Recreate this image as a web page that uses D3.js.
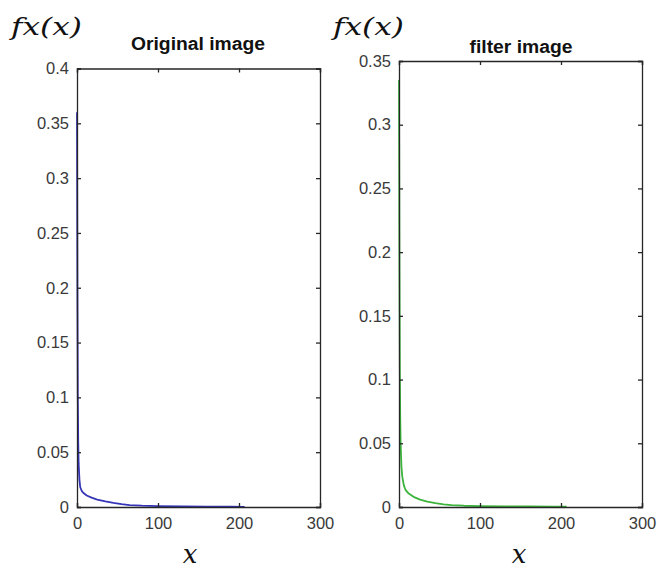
<!DOCTYPE html>
<html>
<head>
<meta charset="utf-8">
<script src="https://cdn.jsdelivr.net/npm/d3@7"></script>
<style>
  body { margin: 0; background: #fff; }
  svg { display: block; }
  .tick text { font-family: "Liberation Sans", Arial, sans-serif; font-size: 16.5px; fill: #3a3a3a; }
</style>
</head>
<body>
<div id="chart"></div>
<script>
// ---- data ----
const origX = [0, 0.5, 1, 1.5, 2, 3, 4, 6, 8, 12, 18, 25, 35, 45, 55, 65, 80, 100, 130, 160, 190, 207];
const origY = [0.36, 0.2, 0.1, 0.06, 0.04, 0.025, 0.018, 0.0145, 0.0128, 0.0105, 0.0085, 0.0068, 0.0052, 0.0038, 0.0026, 0.0018, 0.0012, 0.0008, 0.0005, 0.0004, 0.0003, 0.0002];
const filtX = [0, 0.5, 1, 1.5, 2, 3, 4, 6, 8, 12, 18, 26, 35, 45, 55, 65, 80, 100, 130, 160, 190, 207];
const filtY = [0.335, 0.2, 0.11, 0.07, 0.05, 0.032, 0.024, 0.017, 0.0135, 0.0105, 0.008, 0.0058, 0.0042, 0.003, 0.0021, 0.0015, 0.001, 0.0007, 0.0005, 0.0004, 0.0003, 0.0002];
const xTicks = [0, 100, 200, 300];
const origYTicks = [0, 0.05, 0.1, 0.15, 0.2, 0.25, 0.3, 0.35, 0.4];
const filtYTicks = [0, 0.05, 0.1, 0.15, 0.2, 0.25, 0.3, 0.35];
const titles = ["Original image", "filter image"];

const W = 657, H = 570;
const svg = d3.select("#chart").append("svg").attr("width", W).attr("height", H);

const panels = [
  { title: titles[0], xs: origX, ys: origY, yTicks: origYTicks, yMax: 0.4,
    left: 77, right: 320, top: 68.5, bottom: 507, color: "#3535b8",
    titleX: 198, titleW: 134, titleY: 50, fxX: 11, xLblX: 190 },
  { title: titles[1], xs: filtX, ys: filtY, yTicks: filtYTicks, yMax: 0.35,
    left: 399, right: 642, top: 61, bottom: 507, color: "#3cb43c",
    titleX: 521, titleW: 103, titleY: 53, fxX: 333, xLblX: 519 }
];

panels.forEach(p => {
  const x = d3.scaleLinear().domain([0, 300]).range([p.left, p.right]);
  const y = d3.scaleLinear().domain([0, p.yMax]).range([p.bottom, p.top]);
  const g = svg.append("g");
  const axColor = "#262626";

  // curve
  const data = p.xs.map((v, i) => [v, p.ys[i]]);
  const line = d3.line().x(d => x(d[0])).y(d => y(d[1]));
  g.append("path").datum(data).attr("d", line)
    .attr("fill", "none").attr("stroke", p.color).attr("stroke-width", 1.8)
    .attr("stroke-linejoin", "round");

  // axes
  const xb = g.append("g").attr("transform", `translate(0,${p.bottom})`)
    .call(d3.axisBottom(x).tickValues(xTicks).tickSize(-4).tickPadding(10).tickFormat(d3.format("d")));
  const xt = g.append("g").attr("transform", `translate(0,${p.top})`)
    .call(d3.axisTop(x).tickValues(xTicks).tickSize(-4).tickFormat(""));
  const yl = g.append("g").attr("transform", `translate(${p.left},0)`)
    .call(d3.axisLeft(y).tickValues(p.yTicks).tickSize(-4).tickPadding(8).tickFormat(d => d === 0 ? "0" : d3.format("")(+d.toFixed(2))));
  const yr = g.append("g").attr("transform", `translate(${p.right},0)`)
    .call(d3.axisRight(y).tickValues(p.yTicks).tickSize(-4).tickFormat(""));
  [xb, xt, yl, yr].forEach(a => {
    a.select(".domain").attr("stroke", axColor).attr("stroke-width", 1.3);
    a.selectAll(".tick line").attr("stroke", axColor).attr("stroke-width", 1.3);
  });

  // title
  svg.append("text").attr("x", p.titleX).attr("y", p.titleY)
    .attr("text-anchor", "middle")
    .attr("font-family", "Liberation Sans, Arial, sans-serif")
    .attr("font-weight", "bold").attr("font-size", 17.5).attr("fill", "#111")
    .attr("textLength", p.titleW).attr("lengthAdjust", "spacingAndGlyphs")
    .text(p.title);

  // y label fx(x)
  svg.append("text").attr("x", p.fxX).attr("y", 35)
    .attr("font-family", "DejaVu Serif, serif").attr("font-style", "italic")
    .attr("font-size", 25).attr("fill", "#111")
    .attr("textLength", 71).attr("lengthAdjust", "spacingAndGlyphs")
    .text("fx(x)");

  // x label
  svg.append("text").attr("x", p.xLblX).attr("y", 563)
    .attr("text-anchor", "middle")
    .attr("font-family", "DejaVu Serif, serif").attr("font-style", "italic")
    .attr("font-size", 26).attr("fill", "#111")
    .text("x");
});
</script>
</body>
</html>
